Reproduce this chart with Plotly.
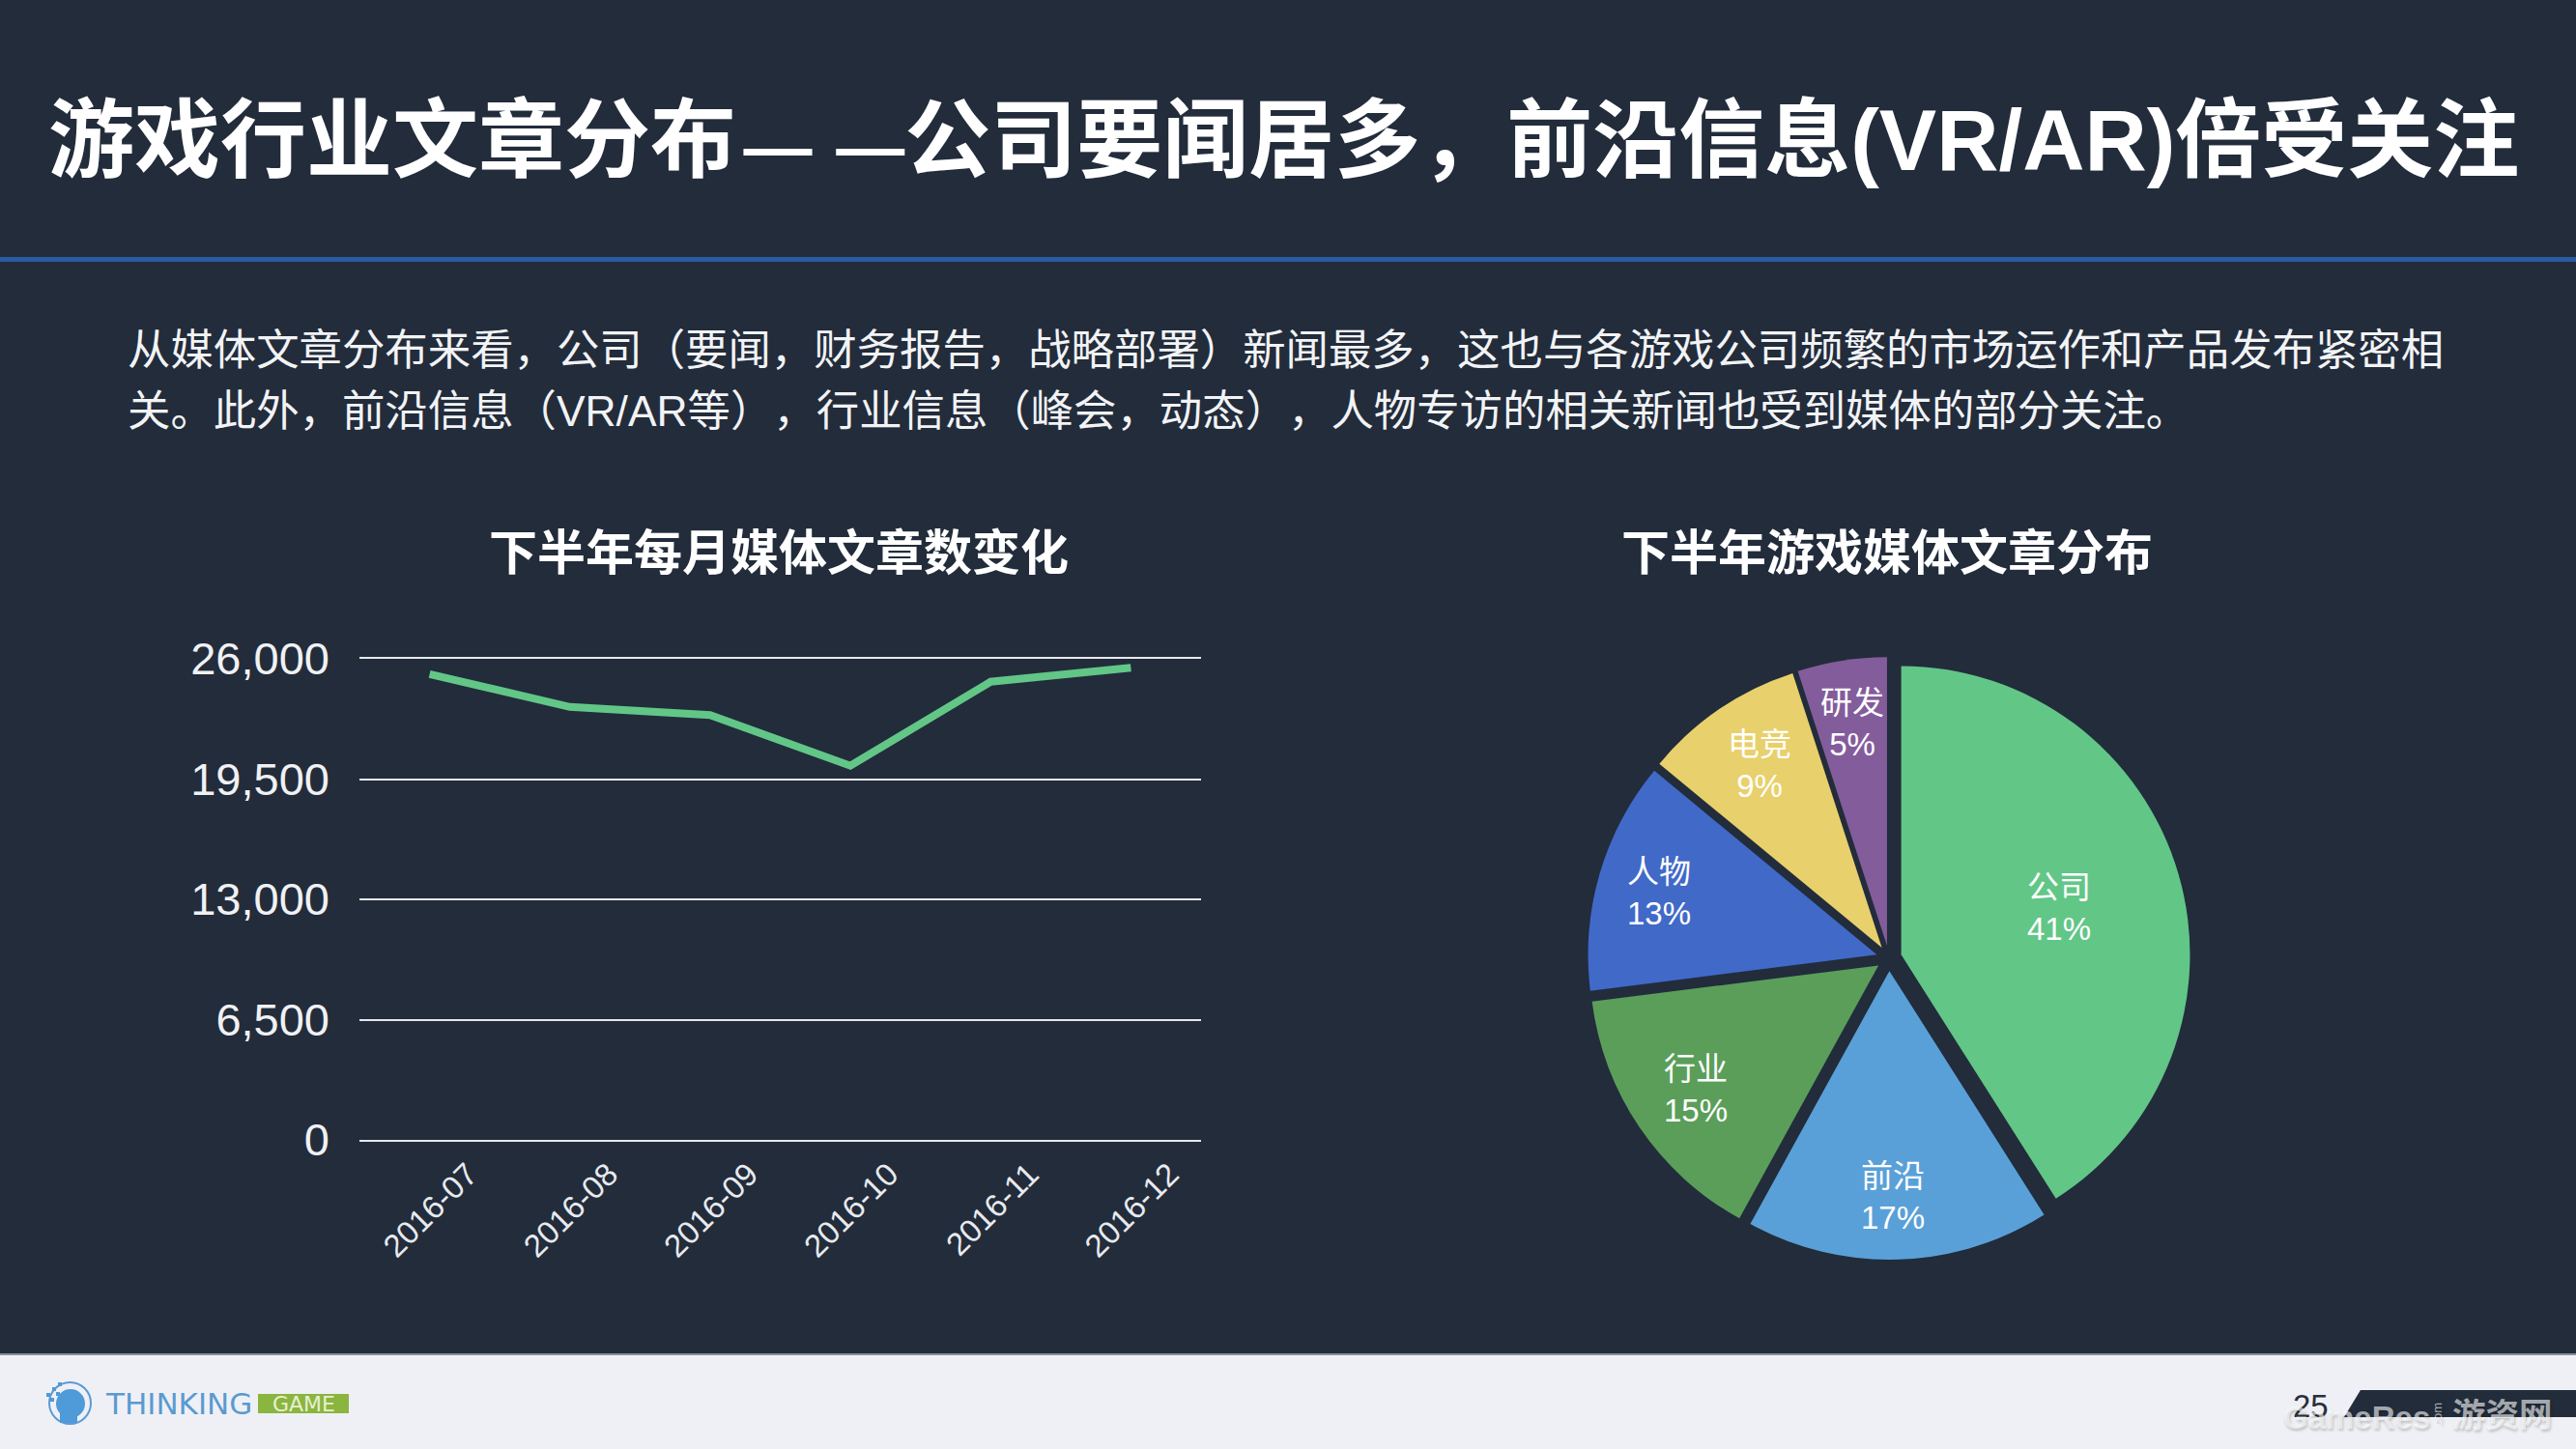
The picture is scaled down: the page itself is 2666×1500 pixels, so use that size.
import plotly.graph_objects as go

W, H = 2666, 1500
BG = '#222c3b'
FONT = 'Liberation Sans, Noto Sans CJK SC'
LATIN = 'Liberation Sans'

# line chart
months = ['2016-07', '2016-08', '2016-09', '2016-10', '2016-11', '2016-12']
articles = [25170, 23400, 22960, 20220, 24760, 25520]
y_ticks = [0, 6500, 13000, 19500, 26000]
y_tick_labels = ['0', '6,500', '13,000', '19,500', '26,000']

# pie chart
sections = ['公司', '前沿', '行业', '人物', '电竞', '研发']
shares = [41, 17, 15, 13, 9, 5]
section_colors = ['#62c687', '#5aa0d8', '#5a9e5a', '#4169c8', '#e8d06c', '#835c9b']

# full-width punctuation written as escapes
COMMA, OPEN, CLOSE = '\uff0c', '\uff08', '\uff09'
# zero width space keeps the browser from squeezing a bracket followed by a comma
NO_TRIM = '\u200b'

# dash is set a little smaller so the two strokes stay apart like on the slide
dash = '<span style="font-size:71px">—</span>'
title = f'游戏行业文章分布\u200a{dash} {dash}公司要闻居多{COMMA}前沿信息(VR/AR)倍受关注'
body_1 = (f'从媒体文章分布来看{COMMA}公司{OPEN}要闻{COMMA}财务报告{COMMA}战略部署{CLOSE}新闻最多{COMMA}'
          '这也与各游戏公司频繁的市场运作和产品发布紧密相')
body_2 = (f'关。此外{COMMA}前沿信息{OPEN}VR/AR等{CLOSE}{NO_TRIM}{COMMA}行业信息{OPEN}峰会{COMMA}动态{CLOSE}{NO_TRIM}{COMMA}'
          '人物专访的相关新闻也受到媒体的部分关注。')


def fx(x):
    return x / W


def fy(y):
    return 1 - y / H


def label(x, y, text, size, color='#ffffff', font=FONT, anchor='left', weight=None, **kw):
    f = dict(family=font, size=size, color=color)
    if weight:
        f['weight'] = weight
    if 'shadow' in kw:
        f['shadow'] = kw.pop('shadow')
    fig.add_annotation(x=fx(x), y=fy(y), xref='paper', yref='paper', text=text, font=f,
                       xanchor=anchor, yanchor='middle', showarrow=False, **kw)


def box(x0, y0, x1, y1, color, kind='rect', **kw):
    fig.add_shape(type=kind, xref='paper', yref='paper', x0=fx(x0), y0=fy(y0), x1=fx(x1), y1=fy(y1),
                  fillcolor=color, line_width=0, layer='below', **kw)


fig = go.Figure()

fig.add_trace(go.Scatter(x=months, y=articles, mode='lines', line=dict(color='#62c687', width=8),
                         showlegend=False, hoverinfo='skip'))

fig.add_trace(go.Pie(labels=sections, values=shares, sort=False, direction='clockwise', rotation=0,
                     pull=0.044, marker=dict(colors=section_colors, line_width=0), textinfo='none',
                     domain=dict(x=[fx(1955 - 312), fx(1955 + 312)], y=[fy(992 + 312), fy(992 - 312)]),
                     showlegend=False, hoverinfo='skip'))

fig.update_layout(
    width=W, height=H, margin=dict(l=0, r=0, t=0, b=0), paper_bgcolor=BG, plot_bgcolor=BG,
    xaxis=dict(domain=[fx(372), fx(1243)], type='category', range=[-0.5, 5.5], tickangle=-45,
               showgrid=False, zeroline=False, ticks='', automargin=False,
               showline=True, mirror=True, linecolor='#e6e8ea', linewidth=2,
               ticklabelshift=40, ticklabelstandoff=1,
               tickfont=dict(family=LATIN, size=33, color='#e8eaee')),
    yaxis=dict(domain=[fy(1180), fy(682)], range=[0, 26000], tickvals=y_ticks, ticktext=y_tick_labels,
               showgrid=True, gridcolor='#e6e8ea', gridwidth=2, zeroline=False, ticks='', automargin=False,
               ticklabelstandoff=30, tickfont=dict(family=LATIN, size=47, color='#f0f1f4')),
)

# header rule and footer band
box(0, 266, W, 271, '#2a5aa0')
box(0, 1402, W, 1500, '#eff0f5')
box(0, 1401, W, 1403, '#8a8f9c')
fig.add_shape(type='path', xref='paper', yref='paper', layer='below', fillcolor=BG, line_width=0,
              path=f'M {fx(2426)} {fy(1467)} L {fx(2443)} {fy(1439)} L 1 {fy(1439)} L 1 {fy(1467)} Z')

# logo
box(51, 1431, 94, 1474, 'rgba(0,0,0,0)', kind='circle')
fig.layout.shapes[-1].line = dict(color='#5b9bd5', width=2)
box(58, 1438, 88, 1468, '#4f9ad8', kind='circle')
box(62, 1455, 80, 1473, '#4f9ad8')
for dx, dy in [(48, 1442), (54, 1436), (60, 1431), (58, 1441), (52, 1447), (60, 1447)]:
    box(dx, dy, dx + 4, dy + 4, '#4f9ad8')
label(107, 1453, 'THINKING', 31, color='#5a9ad0', font='DejaVu Sans')
fig.add_shape(type='rect', xref='paper', yref='paper', layer='below', fillcolor='#8ab53f',
              line=dict(color='#8ab53f', width=6), x0=fx(270), y0=fy(1446), x1=fx(358), y1=fy(1460))
label(314, 1453, 'GAME', 22, color='#e6f0d0', font='DejaVu Sans', anchor='center')

label(2391, 1455, '25', 33, color='#2a2f3a', font=LATIN, anchor='center')

# watermark
mark_shadow = '1px 2px 3px rgba(0,0,0,0.35)'
label(2361, 1467, 'GameRes', 33, color='rgba(255,255,255,0.6)', font=LATIN, weight=700, shadow=mark_shadow)
label(2522, 1466, '.com', 13, color='rgba(255,255,255,0.6)', font=LATIN, textangle=-90, anchor='center',
      shadow=mark_shadow)
label(2536, 1465, '游资网', 34.5, color='rgba(255,255,255,0.6)', weight=700, shadow=mark_shadow)

label(48, 145, title, 89, weight=700)
label(130, 362, body_1, 44.4, color='#f2f3f5')
label(130, 425, body_2, 44.4, color='#f2f3f5')
label(806, 573, '下半年每月媒体文章数变化', 50, anchor='center', weight=700)
label(1953, 573, '下半年游戏媒体文章分布', 50, anchor='center', weight=700)

# slice captions, placed where the slide has them
caption_xy = [(2131, 940), (1959, 1239), (1755, 1128), (1717, 924), (1821, 792), (1917, 749)]
for name, share, (cx, cy) in zip(sections, shares, caption_xy):
    label(cx, cy, f'{name}<br>{share}%', 33, anchor='center')

fig.write_html('out.html', config=dict(displayModeBar=False),
               post_script="document.body.style.margin='0';document.body.style.background='#222c3b';")
